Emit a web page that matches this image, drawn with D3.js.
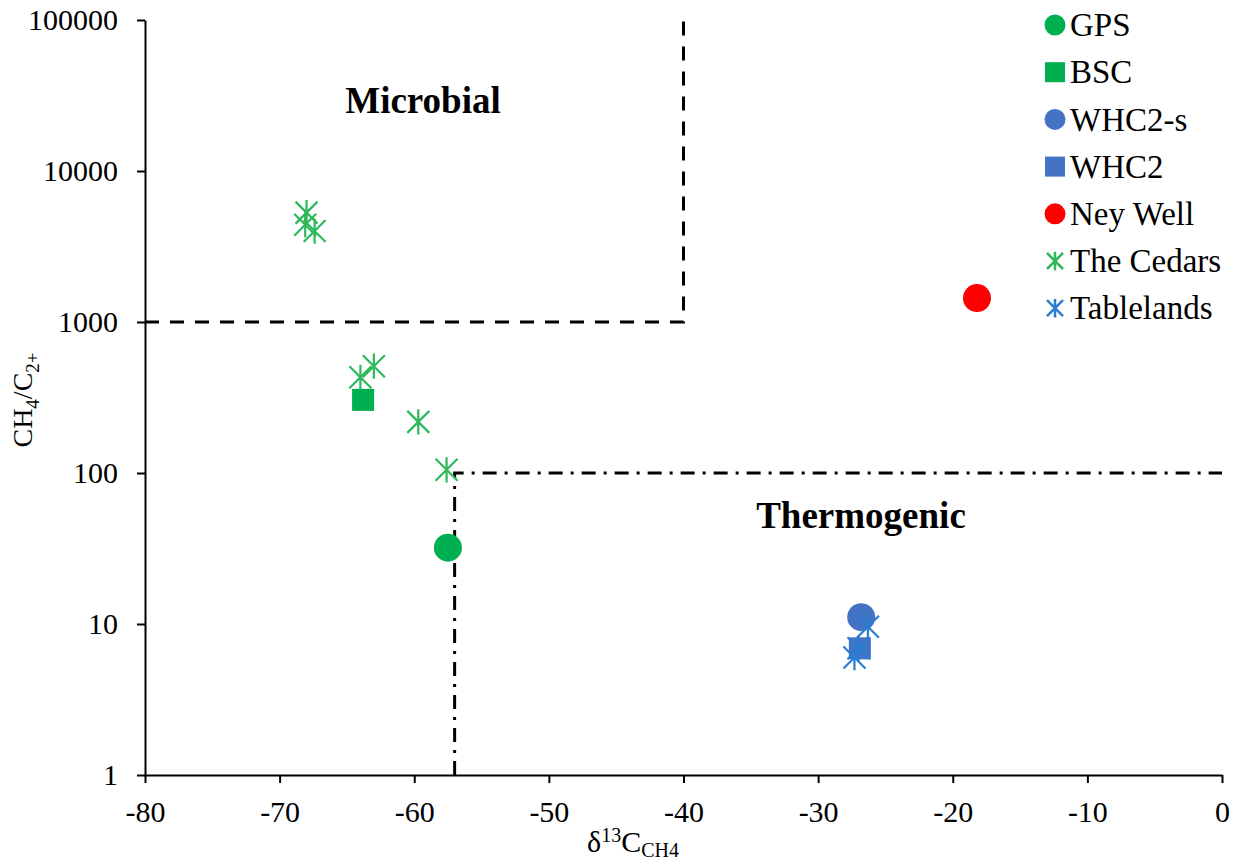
<!DOCTYPE html>
<html>
<head>
<meta charset="utf-8">
<script src="https://cdn.jsdelivr.net/npm/d3@7"></script>
<style>
  body { margin: 0; background: #fff; }
  text { font-family: "Liberation Serif", "Times New Roman", serif; }
</style>
</head>
<body>
<div id="chart"></div>
<script>
// series data: [d13C, CH4/C2+]
const gps = [[-57.5, 32]];
const bsc = [[-63.8, 305]];
const whc2s = [[-26.8, 11.1]];
const whc2 = [[-26.9, 6.9]];
const neyWell = [[-18.2, 1440]];
const cedars = [[-68.0, 5300], [-68.1, 4400], [-67.4, 4000], [-64.0, 430], [-63.0, 510], [-59.7, 218], [-57.6, 105]];
const tablelands = [[-26.3, 9.6], [-27.0, 6.9], [-27.3, 6.0]];

const xTicks = [-80, -70, -60, -50, -40, -30, -20, -10, 0];
const yTicks = [1, 10, 100, 1000, 10000, 100000];

// field boundaries
const microbialLine = [[-80, 1000], [-40, 1000], [-40, 100000]];
const thermoLine = [[-57, 1], [-57, 100], [0, 100]];

const width = 1240, height = 863;
const margin = {top: 20, right: 18, bottom: 88, left: 145};

const svg = d3.select("#chart").append("svg")
    .attr("width", width)
    .attr("height", height);

const x = d3.scaleLinear().domain([-80, 0]).range([margin.left, width - margin.right]);
const y = d3.scaleLog().domain([1, 100000]).range([height - margin.bottom, margin.top]);

// axes (hyphen minus like the original)
const xAxis = d3.axisBottom(x).tickValues(xTicks).tickSize(8).tickSizeOuter(0).tickFormat(d => String(d));
const yAxis = d3.axisLeft(y).tickValues(yTicks).tickSize(8).tickSizeOuter(0).tickFormat(d => String(d));

const gx = svg.append("g")
    .attr("transform", "translate(0," + y(1) + ")")
    .call(xAxis);
const gy = svg.append("g")
    .attr("transform", "translate(" + x(-80) + ",0)")
    .call(yAxis);

[gx, gy].forEach(function (g) {
    g.attr("font-family", null).attr("font-size", null);
    g.selectAll("path, line").attr("stroke", "#000").attr("stroke-width", 2);
    g.selectAll("text").attr("font-size", "30px").attr("fill", "#000");
});
gx.selectAll("text").attr("y", 47).attr("dy", 0);
gy.selectAll("text").attr("x", -27).attr("dy", "0.33em");

// boundary lines
const line = d3.line().x(d => x(d[0])).y(d => y(d[1]));
svg.append("path")
    .datum(microbialLine)
    .attr("d", line)
    .attr("fill", "none")
    .attr("stroke", "#000")
    .attr("stroke-width", 3)
    .attr("stroke-dasharray", "14,11");
svg.append("path")
    .datum(thermoLine)
    .attr("d", line)
    .attr("fill", "none")
    .attr("stroke", "#000")
    .attr("stroke-width", 3)
    .attr("stroke-dasharray", "14,8,3,8");

// region labels
svg.append("text").attr("x", 423).attr("y", 113)
    .attr("text-anchor", "middle").attr("font-size", "37px").attr("font-weight", "bold")
    .text("Microbial");
svg.append("text").attr("x", 861).attr("y", 528)
    .attr("text-anchor", "middle").attr("font-size", "37px").attr("font-weight", "bold")
    .text("Thermogenic");

// marker helpers
function drawCircle(g, cx, cy, r, color) {
    g.append("circle").attr("cx", cx).attr("cy", cy).attr("r", r).attr("fill", color);
}
function drawSquare(g, cx, cy, s, color) {
    g.append("rect").attr("x", cx - s / 2).attr("y", cy - s / 2)
        .attr("width", s).attr("height", s).attr("fill", color);
}
function drawStar(g, cx, cy, s, color, sw) {
    const h = s / 2;
    g.append("path")
        .attr("d", "M" + (cx - h) + "," + (cy - h) + "L" + (cx + h) + "," + (cy + h) +
            "M" + (cx - h) + "," + (cy + h) + "L" + (cx + h) + "," + (cy - h) +
            "M" + cx + "," + (cy - h * 1.15) + "L" + cx + "," + (cy + h * 1.15))
        .attr("stroke", color).attr("stroke-width", sw).attr("fill", "none");
}

const series = [
    {name: "GPS", data: gps, type: "circle", color: "#00B050"},
    {name: "BSC", data: bsc, type: "square", color: "#00B050"},
    {name: "WHC2-s", data: whc2s, type: "circle", color: "#4472C4"},
    {name: "WHC2", data: whc2, type: "square", color: "#4472C4"},
    {name: "Ney Well", data: neyWell, type: "circle", color: "#FF0000"},
    {name: "The Cedars", data: cedars, type: "star", color: "#2DB85A"},
    {name: "Tablelands", data: tablelands, type: "star", color: "#2A7DD1"}
];

const plot = svg.append("g");
series.forEach(function (s) {
    s.data.forEach(function (d) {
        const cx = x(d[0]), cy = y(d[1]);
        if (s.type === "circle") drawCircle(plot, cx, cy, 14, s.color);
        else if (s.type === "square") drawSquare(plot, cx, cy, 22, s.color);
        else drawStar(plot, cx, cy, 22, s.color, 2.2);
    });
});

// legend
const legend = svg.append("g");
series.forEach(function (s, i) {
    const ly = 25 + i * 47.2;
    const lx = 1055;
    if (s.type === "circle") drawCircle(legend, lx, ly, 10.5, s.color);
    else if (s.type === "square") drawSquare(legend, lx, ly, 20, s.color);
    else drawStar(legend, lx, ly, 16, s.color, 2.5);
    legend.append("text").attr("x", 1070).attr("y", ly).attr("dy", "0.34em")
        .attr("font-size", "33px").text(s.name);
});

// axis titles
const yt = svg.append("text")
    .attr("transform", "translate(32," + 400 + ") rotate(-90)")
    .attr("text-anchor", "middle")
    .attr("font-size", "28px");
yt.append("tspan").text("CH");
yt.append("tspan").attr("font-size", "19px").attr("dy", 7).text("4");
yt.append("tspan").attr("dy", -7).text("/C");
yt.append("tspan").attr("font-size", "19px").attr("dy", 7).text("2+");

const xt = svg.append("text")
    .attr("x", 633).attr("y", 852)
    .attr("text-anchor", "middle")
    .attr("font-size", "30px");
xt.append("tspan").text("δ");
xt.append("tspan").attr("font-size", "20px").attr("dy", -10).text("13");
xt.append("tspan").attr("dy", 10).text("C");
xt.append("tspan").attr("font-size", "20px").attr("dy", 5).text("CH4");
</script>
</body>
</html>
